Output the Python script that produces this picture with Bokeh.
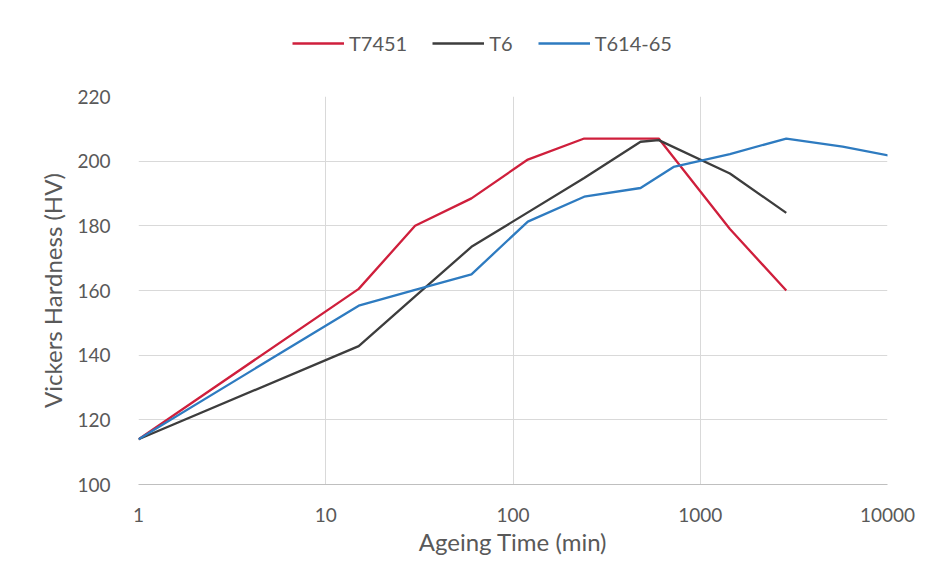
from bokeh.plotting import figure
from bokeh.layouts import column
from bokeh.models import Range1d, FixedTicker, Legend, LegendItem
from bokeh.embed import file_html
from bokeh.resources import INLINE

# ---- data ----
t7451_time = [1, 15, 30, 60, 120, 240, 600, 1440, 2880]
t7451_hv = [114, 160.5, 180, 188.5, 200.5, 207, 207, 179, 160]

t6_time = [1, 15, 30, 60, 240, 480, 600, 1440, 2880]
t6_hv = [114, 142.8, 158.2, 173.5, 194.8, 206, 206.5, 196.2, 184]

t614_time = [1, 15, 30, 60, 120, 240, 480, 720, 1440, 2880, 5760, 10080]
t614_hv = [114, 155.3, 160.2, 165, 181.3, 189, 191.7, 198.2, 202.2, 207, 204.5, 201.8]

x_ticks = [1, 10, 100, 1000, 10000]
x_tick_labels = ["1", "10", "100", "1000", "10000"]
y_ticks = [100, 120, 140, 160, 180, 200, 220]

series_names = ["T7451", "T6", "T614-65"]
colors = ["#CF1F3C", "#3D3D3D", "#2E7BC0"]
series_x = [t7451_time, t6_time, t614_time]
series_y = [t7451_hv, t6_hv, t614_hv]

FONT = "Lato"
TXT = "#595959"
GRID = "#D9D9D9"
W = 928
LEG_H = 70

# ---- main chart ----
p = figure(width=W, height=488, x_axis_type="log",
           x_range=Range1d(1, 10000), y_range=Range1d(100, 220),
           output_backend="svg", toolbar_location=None,
           min_border_left=138, min_border_right=41,
           min_border_top=26, min_border_bottom=71)
p.outline_line_color = None
p.background_fill_color = "white"
p.border_fill_color = "white"

for xs, ys, c in zip(series_x, series_y, colors):
    p.line(xs, ys, line_color=c, line_width=2.3)

p.xaxis.ticker = FixedTicker(ticks=x_ticks)
p.xaxis.major_label_overrides = {t: l for t, l in zip(x_ticks, x_tick_labels)}
p.yaxis.ticker = FixedTicker(ticks=y_ticks)
p.xaxis.minor_tick_line_color = None
p.yaxis.minor_tick_line_color = None
for ax in (p.xaxis, p.yaxis):
    ax.major_tick_line_color = None
    ax.major_label_text_font = FONT
    ax.major_label_text_font_size = "19px"
    ax.major_label_text_color = TXT
    ax.axis_label_text_font = FONT
    ax.axis_label_text_font_size = "24px"
    ax.axis_label_text_color = TXT
    ax.axis_label_text_font_style = "normal"
p.yaxis.axis_line_color = None
p.xaxis.axis_line_color = "#BFBFBF"
p.yaxis.major_label_standoff = 22
p.xaxis.major_label_standoff = 17
p.xaxis.axis_label = "Ageing Time (min)"
p.yaxis.axis_label = "Vickers Hardness (HV)"
p.xaxis.axis_label_standoff = 2
p.yaxis.axis_label_standoff = 7

p.xgrid.grid_line_color = GRID
p.ygrid.grid_line_color = GRID

# ---- legend strip (own small figure; series drawn out of its view) ----
lg = figure(width=W, height=LEG_H, x_range=Range1d(-10, -5), y_range=Range1d(0, 1),
            output_backend="svg", toolbar_location=None,
            x_axis_location=None, y_axis_location=None,
            min_border_left=0, min_border_right=0, min_border_top=0, min_border_bottom=0)
lg.outline_line_color = None
lg.xgrid.visible = False
lg.ygrid.visible = False
lg_renderers = [lg.line(xs, ys, line_color=c, line_width=2.3)
                for xs, ys, c in zip(series_x, series_y, colors)]

legend = Legend(items=[LegendItem(label=n, renderers=[r]) for n, r in zip(series_names, lg_renderers)],
                orientation="horizontal", location=(154, 15))
legend.label_text_font = FONT
legend.label_text_font_size = "20px"
legend.label_text_color = TXT
legend.glyph_width = 52
legend.label_standoff = 5
legend.spacing = 25
legend.border_line_color = None
legend.background_fill_alpha = 0
legend.padding = 0
legend.margin = 0
lg.add_layout(legend)

layout = column(lg, p, spacing=0)
open("out.html", "w").write(file_html(layout, INLINE))
